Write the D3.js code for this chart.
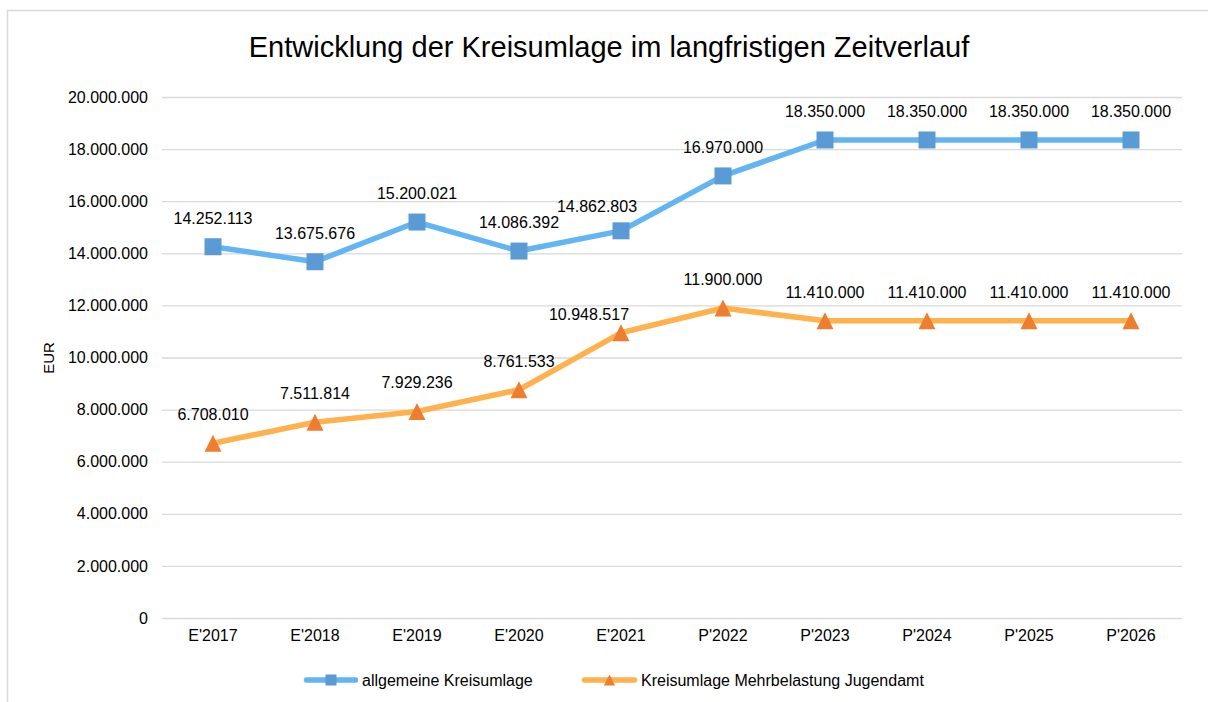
<!DOCTYPE html>
<html>
<head>
<meta charset="utf-8">
<script src="https://cdn.jsdelivr.net/npm/d3@7"></script>
<style>
  html, body { margin: 0; padding: 0; background: #fff; }
  svg { display: block; font-family: "Liberation Sans", Arial, Helvetica, sans-serif; }
</style>
</head>
<body>
<svg id="chart" width="1208" height="702"></svg>
<script>
const categories = ["E'2017","E'2018","E'2019","E'2020","E'2021","P'2022","P'2023","P'2024","P'2025","P'2026"];
const allgemeine = [14252113, 13675676, 15200021, 14086392, 14862803, 16970000, 18350000, 18350000, 18350000, 18350000];
const jugendamt = [6708010, 7511814, 7929236, 8761533, 10948517, 11900000, 11410000, 11410000, 11410000, 11410000];
const yTicks = [0, 2000000, 4000000, 6000000, 8000000, 10000000, 12000000, 14000000, 16000000, 18000000, 20000000];
const seriesNames = ["allgemeine Kreisumlage", "Kreisumlage Mehrbelastung Jugendamt"];
const titleText = "Entwicklung der Kreisumlage im langfristigen Zeitverlauf";
const yAxisTitle = "EUR";

const svg = d3.select("#chart");
const W = 1208, H = 702;
const plot = {left: 162, right: 1182, top: 97, bottom: 618};
const FS = "16px";

const fmt = v => d3.format(",")(v).replace(/,/g, ".");

// chart border
svg.append("rect").attr("x", 7.5).attr("y", 10.5).attr("width", W + 10).attr("height", H + 10)
  .attr("fill", "#fff").attr("stroke", "#d9d9d9").attr("stroke-width", 1.5);

const x = d3.scaleBand().domain(categories).range([plot.left, plot.right]);
const y = d3.scaleLinear().domain([0, 20000000]).range([plot.bottom, plot.top]);
const cx = c => x(c) + x.bandwidth() / 2;

// grid + y labels
const yAxis = d3.axisLeft(y).tickValues(yTicks).tickSize(-(plot.right - plot.left)).tickPadding(14).tickFormat(fmt);
const gy = svg.append("g").attr("transform", `translate(${plot.left},0)`).call(yAxis);
gy.select(".domain").remove();
gy.selectAll(".tick line").attr("stroke", "#d9d9d9").attr("stroke-width", 1.3);
gy.selectAll(".tick text").attr("fill", "#000").style("font-size", FS)
  .style("font-family", "'Liberation Sans', Arial, sans-serif");

// x labels
const xAxis = d3.axisBottom(x).tickSize(0).tickPadding(12);
const gx = svg.append("g").attr("transform", `translate(0,${plot.bottom})`).call(xAxis);
gx.select(".domain").remove();
gx.selectAll(".tick text").attr("fill", "#000").style("font-size", FS)
  .style("font-family", "'Liberation Sans', Arial, sans-serif");

// title
svg.append("text").attr("x", 609).attr("y", 57).attr("text-anchor", "middle")
  .style("font-size", "29px").attr("fill", "#000").text(titleText);

// y axis title
svg.append("text").attr("transform", "translate(54,358) rotate(-90)").attr("text-anchor", "middle")
  .style("font-size", "15px").attr("fill", "#000").text(yAxisTitle);

const line = d3.line().x((d, i) => cx(categories[i])).y(d => y(d));

const series = [
  {name: seriesNames[0], values: allgemeine, lineColor: "#62b4f2", markColor: "#5b9bd5", marker: "square",
   labelShift: i => i === 4 ? [-24, -19] : [0, -23]},
  {name: seriesNames[1], values: jugendamt, lineColor: "#ffb14e", markColor: "#ed7d31", marker: "triangle",
   labelShift: i => i === 4 ? [-32, -13] : [0, -23]}
];

const markerPath = (type, s) => type === "square"
  ? `M${-s/2},${-s/2}H${s/2}V${s/2}H${-s/2}Z`
  : `M0,${-s/2}L${s/2},${s/2}L${-s/2},${s/2}Z`;

series.forEach(s => {
  svg.append("path").datum(s.values).attr("d", line).attr("fill", "none")
    .attr("stroke", s.lineColor).attr("stroke-width", 5.5).attr("stroke-linejoin", "round");
  svg.selectAll(null).data(s.values).enter().append("path")
    .attr("d", markerPath(s.marker, 17))
    .attr("transform", (d, i) => `translate(${cx(categories[i])},${y(d)})`)
    .attr("fill", s.markColor);
  svg.selectAll(null).data(s.values).enter().append("text")
    .attr("x", (d, i) => cx(categories[i]) + s.labelShift(i)[0])
    .attr("y", (d, i) => y(d) + s.labelShift(i)[1])
    .attr("text-anchor", "middle").style("font-size", FS).attr("fill", "#000")
    .text(d => fmt(d));
});

// legend
const legend = [
  {s: series[0], x1: 304, x2: 358, tx: 362},
  {s: series[1], x1: 582, x2: 637, tx: 641}
];
legend.forEach(l => {
  const ly = 680;
  svg.append("line").attr("x1", l.x1 + 2.5).attr("x2", l.x2 - 2.5).attr("y1", ly).attr("y2", ly)
    .attr("stroke", l.s.lineColor).attr("stroke-width", 5.5).attr("stroke-linecap", "round");
  svg.append("path").attr("d", markerPath(l.s.marker, 11))
    .attr("transform", `translate(${(l.x1 + l.x2) / 2},${ly})`).attr("fill", l.s.markColor);
  svg.append("text").attr("x", l.tx).attr("y", ly + 6).style("font-size", FS).attr("fill", "#000").text(l.s.name);
});
</script>
</body>
</html>
